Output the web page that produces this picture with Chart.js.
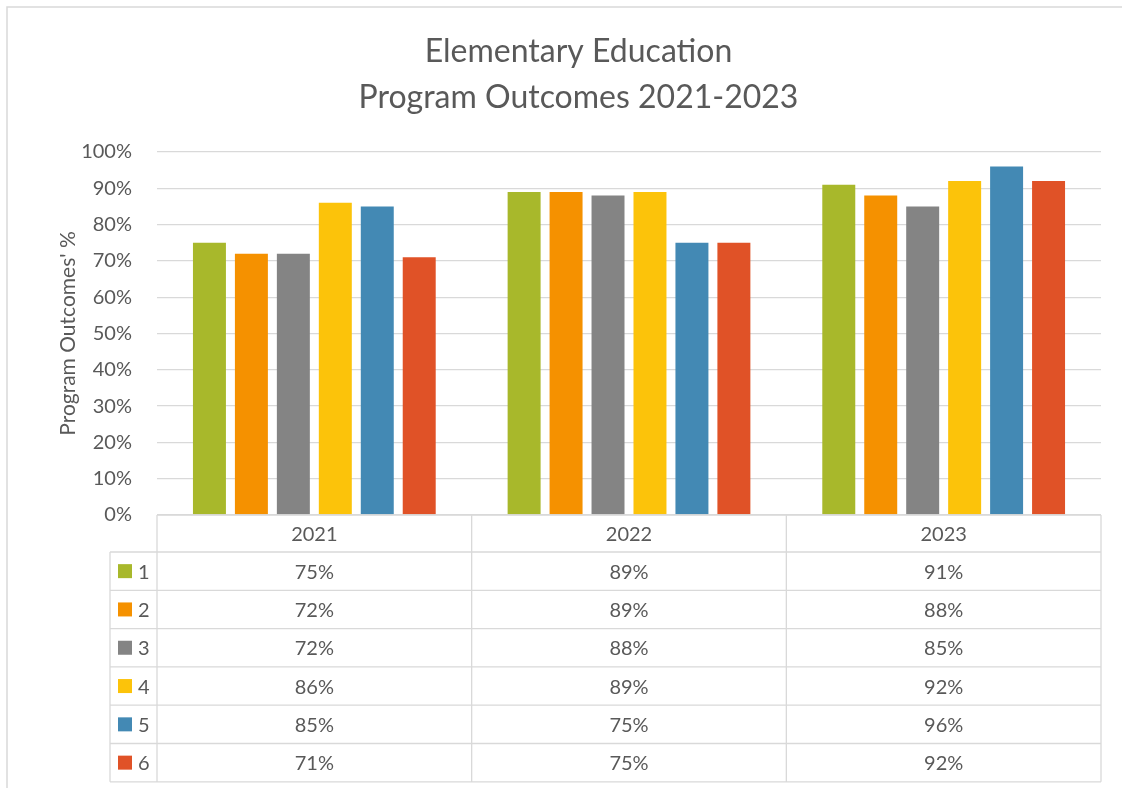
<!DOCTYPE html>
<html>
<head>
<meta charset="utf-8">
<script src="https://cdn.jsdelivr.net/npm/chart.js@4.4.0/dist/chart.umd.min.js"></script>
<style>
  html, body { margin: 0; padding: 0; background: #fff; }
  #wrap { width: 1122px; height: 788px; }
</style>
</head>
<body>
<div id="wrap"><canvas id="chart" width="1122" height="788"></canvas></div>
<script>
// data
var years = ['2021', '2022', '2023'];
var outcomeNames = ['1', '2', '3', '4', '5', '6'];
var outcome1 = [75, 89, 91];
var outcome2 = [72, 89, 88];
var outcome3 = [72, 88, 85];
var outcome4 = [86, 89, 92];
var outcome5 = [85, 75, 96];
var outcome6 = [71, 75, 92];
var yTicks = [0, 10, 20, 30, 40, 50, 60, 70, 80, 90, 100];

var colors = ['#A8B82B', '#F59100', '#848484', '#FCC30A', '#4389B4', '#E05227'];
var textColor = '#595959';
var lineColor = '#D9D9D9';
var fontFamily = 'Lato, "Open Sans", sans-serif';

var series = [outcome1, outcome2, outcome3, outcome4, outcome5, outcome6];
var datasets = series.map(function(vals, i){
    return {
        label: outcomeNames[i],
        data: vals,
        backgroundColor: colors[i],
        borderWidth: 0,
        categoryPercentage: 0.8,
        barPercentage: 0.786
    };
});

// data table under the plot, drawn off the x scale
var dataTable = {
    id: 'dataTable',
    beforeDraw: function(chart){
        var ctx = chart.ctx;
        ctx.save();
        ctx.fillStyle = '#fff';
        ctx.fillRect(0, 0, chart.width, chart.height);
        // chart frame
        ctx.strokeStyle = lineColor;
        ctx.lineWidth = 1.5;
        ctx.beginPath();
        ctx.moveTo(7, chart.height);
        ctx.lineTo(7, 7);
        ctx.lineTo(chart.width, 7);
        ctx.stroke();
        ctx.restore();
    },
    afterDraw: function(chart){
        var ctx = chart.ctx;
        var area = chart.chartArea;
        var xs = chart.scales.x;
        var n = years.length;
        var colW = xs.width / n;
        var headTop = area.bottom;
        var headBottom = xs.bottom;
        var rowH = 38.3;
        var legendLeft = 110;
        var tableBottom = headBottom + rowH * outcomeNames.length;

        ctx.save();
        ctx.strokeStyle = lineColor;
        ctx.lineWidth = 1.3;
        ctx.beginPath();
        ctx.moveTo(xs.left, headTop);
        ctx.lineTo(xs.right, headTop);
        for (var i = 0; i <= n; i++) {
            var ex = xs.left + i * colW;
            ctx.moveTo(ex, headTop);
            ctx.lineTo(ex, tableBottom);
        }
        ctx.moveTo(legendLeft, headBottom);
        ctx.lineTo(legendLeft, tableBottom);
        for (var r = 0; r <= outcomeNames.length; r++) {
            var ly = headBottom + r * rowH;
            ctx.moveTo(legendLeft, ly);
            ctx.lineTo(xs.right, ly);
        }
        ctx.stroke();

        ctx.font = '20px ' + fontFamily;
        ctx.fillStyle = textColor;
        ctx.textBaseline = 'middle';
        for (var s = 0; s < series.length; s++) {
            var cy = headBottom + s * rowH + rowH / 2;
            ctx.fillStyle = colors[s];
            ctx.fillRect(118, cy - 7, 14, 14);
            ctx.fillStyle = textColor;
            ctx.textAlign = 'left';
            ctx.fillText(outcomeNames[s], 138, cy + 1);
            ctx.textAlign = 'center';
            for (var c = 0; c < n; c++) {
                ctx.fillText(Math.round(series[s][c]) + '%', xs.getPixelForValue(c), cy + 1);
            }
        }
        ctx.restore();
    }
};

new Chart(document.getElementById('chart'), {
    type: 'bar',
    data: { labels: years, datasets: datasets },
    plugins: [dataTable],
    options: {
        responsive: false,
        devicePixelRatio: 1,
        animation: false,
        layout: { padding: { left: 56, right: 21, top: 0, bottom: 236 } },
        plugins: {
            legend: { display: false },
            tooltip: { enabled: false },
            title: {
                display: true,
                text: ['Elementary Education', 'Program Outcomes 2021-2023'],
                color: textColor,
                font: { family: fontFamily, size: 32, weight: 'normal', lineHeight: 1.4375 },
                padding: { top: 29, bottom: 31 }
            }
        },
        scales: {
            x: {
                grid: { display: false, drawTicks: false },
                border: { display: false },
                ticks: { color: textColor, font: { family: fontFamily, size: 20 }, padding: 8 },
                afterFit: function(scale){ scale.height = 37; }
            },
            y: {
                min: 0,
                max: 100,
                afterBuildTicks: function(scale){
                    scale.ticks = yTicks.map(function(v){ return { value: v }; });
                },
                grid: { color: lineColor, lineWidth: 1.3, drawTicks: false },
                border: { display: false },
                ticks: {
                    color: textColor,
                    font: { family: fontFamily, size: 20 },
                    padding: 25,
                    callback: function(v){ return v + '%'; }
                },
                title: {
                    display: true,
                    text: "Program Outcomes' %",
                    color: textColor,
                    font: { family: fontFamily, size: 21 },
                    padding: { top: 0, bottom: 0 }
                },
                afterFit: function(scale){ scale.width = 101; }
            }
        }
    }
});
</script>
</body>
</html>
